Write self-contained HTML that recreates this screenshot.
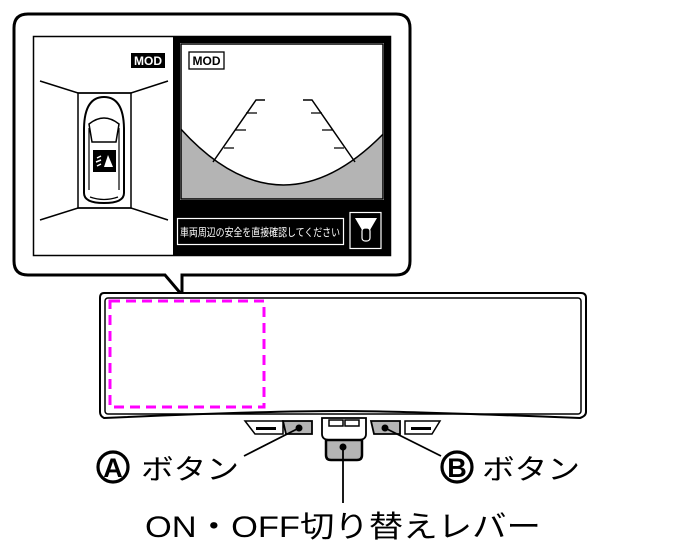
<!DOCTYPE html>
<html><head><meta charset="utf-8"><style>html,body{margin:0;padding:0;background:#fff;width:686px;height:556px;overflow:hidden}svg{display:block}text{font-family:"Liberation Sans","Noto Sans CJK JP",sans-serif}</style></head><body>
<svg width="686" height="556" viewBox="0 0 686 556" xmlns="http://www.w3.org/2000/svg">
<path d="M28,14 H396 Q410,14 410,28 V261 Q410,275 396,275 H182 V295 L165,275 H28 Q14,275 14,261 V28 Q14,14 28,14 Z" fill="#fff" stroke="#000" stroke-width="3"/>
<rect x="33.5" y="36.5" width="357" height="219" fill="#fff" stroke="#000" stroke-width="1.5"/>
<rect x="173" y="36" width="218" height="220" fill="#000"/>
<rect x="180" y="43" width="204" height="157" fill="#fff"/>
<clipPath id="cv"><rect x="181" y="44" width="202" height="155"/></clipPath>
<g clip-path="url(#cv)">
<path d="M150,90 Q282,280 420,90 V210 H150 Z" fill="#b4b4b4" stroke="#000" stroke-width="1.5"/>
</g>
<rect x="181" y="44" width="202" height="155" fill="none" stroke="#000" stroke-width="1.5"/>
<path d="M265,100 H256 L213,162" fill="none" stroke="#000" stroke-width="1.5"/>
<path d="M303,100 H312 L355,162" fill="none" stroke="#000" stroke-width="1.5"/>
<path d="M246,113 H257 M235,130 H246 M224,148 H234 M322,113 H311 M333,130 H322 M344,148 H334" stroke="#000" stroke-width="1.3"/>
<rect x="131" y="53" width="34" height="15" fill="#000"/>
<text x="148" y="65" font-size="12" font-weight="bold" fill="#fff" text-anchor="middle">MOD</text>
<rect x="189" y="52" width="35" height="17" fill="#fff" stroke="#000" stroke-width="1.3"/>
<text x="206.5" y="65" font-size="12" font-weight="bold" fill="#000" text-anchor="middle">MOD</text>
<rect x="177.5" y="218.5" width="166" height="26" fill="#000" stroke="#fff" stroke-width="1.2"/>
<text x="180" y="236" font-size="11" fill="#fff" textLength="160" lengthAdjust="spacingAndGlyphs">車両周辺の安全を直接確認してください</text>
<rect x="350" y="212.5" width="31" height="36" fill="#000" stroke="#fff" stroke-width="1.2"/>
<path d="M355,218 H377 L370,230 H362 Z" fill="#fff"/>
<rect x="362" y="228" width="8" height="13" rx="3" fill="#000" stroke="#fff" stroke-width="1.2"/>
<path d="M40,81 L78,93 H131 L168,81 M40,220 L78,208 H131 L168,220" fill="none" stroke="#000" stroke-width="1.5"/>
<rect x="78" y="93" width="53" height="115" fill="none" stroke="#000" stroke-width="1.5"/>
<path d="M84,130 Q84,97 104,97 Q124,97 124,130 V193 Q124,203 104,203 Q84,203 84,193 Z" fill="#fff" stroke="#000" stroke-width="2"/>
<path d="M89,124 Q104,112 119,124 L116,142 H92 Z" fill="none" stroke="#000" stroke-width="1.5"/>
<path d="M89,128 V190 M119,128 V190 M90,197 Q104,202 118,197" fill="none" stroke="#000" stroke-width="1.2"/>
<rect x="93" y="150" width="23" height="22" fill="#000"/>
<path d="M104,167 L108,155 L113,167 Z" fill="#fff"/>
<path d="M97,158 L101,156 M96,162 L101,160 M97,166 L101,164" stroke="#fff" stroke-width="1.5"/>
<path d="M104,293 H581 Q586,293 586,298 V412 Q586,416 580,418 Q400,411 342,411 Q260,411 104,418 Q100,416 100,412 V298 Q100,293 104,293 Z" fill="#fff" stroke="#000" stroke-width="2"/>
<rect x="105" y="298" width="476" height="116" rx="3" fill="none" stroke="#000" stroke-width="1.5"/>
<rect x="110" y="301" width="154" height="106" fill="none" stroke="#f0f" stroke-width="3" stroke-dasharray="10,6"/>
<path d="M245,421 H283 V434 H255 Z" fill="#fff" stroke="#000" stroke-width="1.5"/>
<rect x="256" y="427" width="20" height="3" fill="#000"/>
<path d="M283,421 H312 V434 H286 Z" fill="#b4b4b4" stroke="#000" stroke-width="1.8"/>
<path d="M405,421 H440 L432,434 H405 Z" fill="#fff" stroke="#000" stroke-width="1.5"/>
<rect x="411" y="427" width="20" height="3" fill="#000"/>
<path d="M371,421 H400 V434 H374 Z" fill="#b4b4b4" stroke="#000" stroke-width="1.8"/>
<path d="M322,418 H366 V434 Q366,440 358,440 H330 Q322,440 322,434 Z" fill="#fff" stroke="#000" stroke-width="1.8"/>
<rect x="329" y="420" width="14" height="6" fill="#fff" stroke="#000" stroke-width="1.5"/>
<rect x="345" y="420" width="14" height="6" fill="#fff" stroke="#000" stroke-width="1.5"/>
<path d="M326,440 H362 V455 Q362,460 357,460 H331 Q326,460 326,455 Z" fill="#b4b4b4" stroke="#000" stroke-width="2.5"/>
<line x1="299" y1="428" x2="244" y2="456" stroke="#000" stroke-width="1.8"/>
<line x1="385" y1="428" x2="441" y2="456" stroke="#000" stroke-width="1.8"/>
<line x1="343" y1="447" x2="343" y2="503" stroke="#000" stroke-width="1.8"/>
<circle cx="299" cy="428" r="3.5" fill="#000"/>
<circle cx="385" cy="428" r="3.5" fill="#000"/>
<circle cx="343" cy="447" r="3.5" fill="#000"/>
<circle cx="113" cy="467" r="15" fill="none" stroke="#000" stroke-width="3.2"/>
<text x="113" y="477" font-size="27" font-weight="bold" text-anchor="middle">A</text>
<text x="141" y="479" font-size="28" textLength="98" lengthAdjust="spacingAndGlyphs">ボタン</text>
<circle cx="457" cy="467" r="15" fill="none" stroke="#000" stroke-width="3.2"/>
<text x="457" y="477" font-size="27" font-weight="bold" text-anchor="middle">B</text>
<text x="482" y="479" font-size="28" textLength="98" lengthAdjust="spacingAndGlyphs">ボタン</text>
<text x="145" y="537" font-size="30" textLength="396" lengthAdjust="spacingAndGlyphs">ON・OFF切り替えレバー</text>
</svg>
</body></html>
